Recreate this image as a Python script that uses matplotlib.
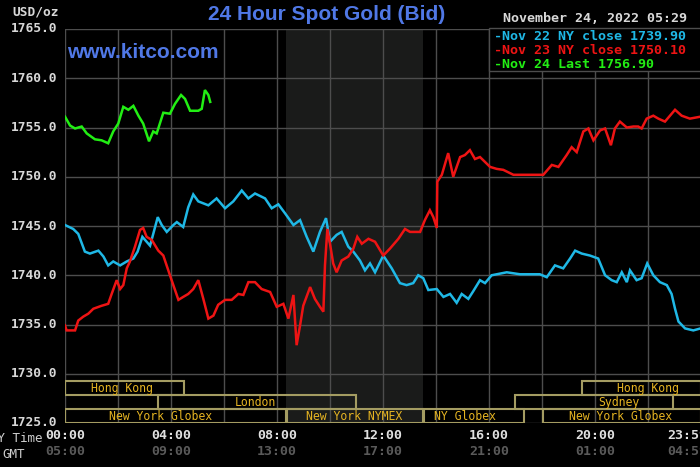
import matplotlib
matplotlib.use("Agg")
import matplotlib.pyplot as plt
from matplotlib.patches import Rectangle

# ---------------- data ----------------
nov22_t = [0.00, 0.31, 0.50, 0.75, 0.94, 1.26, 1.45, 1.63, 1.82, 2.08, 2.33, 2.58, 2.74, 2.92,
           3.21, 3.50, 3.65, 3.84, 4.09, 4.22, 4.46, 4.65, 4.84, 5.03, 5.41, 5.72, 6.04, 6.35,
           6.67, 6.92, 7.17, 7.55, 7.80, 8.05, 8.30, 8.62, 8.87, 9.12, 9.37, 9.62, 9.85, 10.00,
           10.25, 10.44, 10.69, 10.88, 11.13, 11.32, 11.51, 11.70, 12.01, 12.33, 12.64, 12.89,
           13.14, 13.33, 13.52, 13.71, 14.03, 14.28, 14.53, 14.78, 14.97, 15.22, 15.41, 15.66,
           15.85, 16.10, 16.67, 17.17, 17.92, 18.18, 18.49, 18.80, 19.06, 19.25, 19.50, 19.81,
           20.12, 20.38, 20.63, 20.82, 21.01, 21.20, 21.32, 21.57, 21.76, 21.97, 22.20, 22.45,
           22.71, 22.89, 23.02, 23.15, 23.40, 23.71, 23.98]
nov22_v = [1745.1, 1744.7, 1744.2, 1742.4, 1742.2, 1742.5, 1741.9, 1741.0, 1741.4, 1741.0,
           1741.4, 1741.7, 1742.4, 1743.9, 1743.0, 1745.9, 1745.1, 1744.4, 1745.1, 1745.4,
           1744.9, 1746.9, 1748.2, 1747.5, 1747.1, 1747.8, 1746.8, 1747.5, 1748.6, 1747.8,
           1748.3, 1747.8, 1746.8, 1747.2, 1746.3, 1745.1, 1745.6, 1743.9, 1742.4, 1744.4,
           1745.8, 1743.4, 1744.1, 1744.4, 1742.9, 1742.4, 1741.5, 1740.5, 1741.2, 1740.3,
           1742.0, 1740.7, 1739.2, 1739.0, 1739.2, 1740.0, 1739.7, 1738.5, 1738.6, 1737.8,
           1738.1, 1737.2, 1738.1, 1737.6, 1738.4, 1739.5, 1739.2, 1740.0, 1740.3, 1740.1,
           1740.1, 1739.8, 1741.0, 1740.7, 1741.7, 1742.5, 1742.2, 1742.0, 1741.7, 1740.0,
           1739.5, 1739.3, 1740.3, 1739.3, 1740.5, 1739.5, 1739.7, 1741.2, 1740.0, 1739.3,
           1739.0, 1738.1, 1736.6, 1735.3, 1734.6, 1734.4, 1734.6]

nov23_t = [0.00, 0.06, 0.38, 0.50, 0.69, 0.88, 1.07, 1.38, 1.63, 1.76, 1.95, 2.08, 2.20, 2.33,
           2.45, 2.64, 2.83, 2.95, 3.08, 3.27, 3.52, 3.71, 3.96, 4.28, 4.46, 4.65, 4.84, 5.03,
           5.22, 5.41, 5.60, 5.78, 6.04, 6.29, 6.54, 6.73, 6.92, 7.17, 7.42, 7.74, 7.99, 8.24,
           8.43, 8.62, 8.74, 8.87, 8.99, 9.25, 9.43, 9.62, 9.75, 9.81, 9.90, 10.00, 10.12, 10.25,
           10.44, 10.69, 10.88, 11.03, 11.20, 11.45, 11.70, 12.01, 12.26, 12.58, 12.83, 13.02,
           13.40, 13.58, 13.77, 13.90, 14.03, 14.05, 14.22, 14.46, 14.65, 14.91, 15.09, 15.28,
           15.47, 15.66, 16.04, 16.29, 16.54, 16.92, 17.42, 18.05, 18.37, 18.62, 18.93, 19.12,
           19.31, 19.56, 19.75, 19.94, 20.19, 20.38, 20.60, 20.75, 20.94, 21.20, 21.45, 21.63,
           21.76, 21.95, 22.20, 22.39, 22.64, 23.02, 23.27, 23.58, 23.98]
nov23_v = [1734.9, 1734.4, 1734.4, 1735.4, 1735.8, 1736.1, 1736.6, 1736.9, 1737.1, 1738.1,
           1739.5, 1738.6, 1739.0, 1740.7, 1741.4, 1742.9, 1744.6, 1744.8, 1743.9, 1743.6,
           1742.5, 1742.0, 1740.0, 1737.5, 1737.8, 1738.1, 1738.6, 1739.5, 1737.6, 1735.6,
           1735.9, 1737.0, 1737.5, 1737.5, 1738.1, 1738.0, 1739.3, 1739.3, 1738.6, 1738.3,
           1736.8, 1737.1, 1735.6, 1738.0, 1732.9, 1734.9, 1736.9, 1738.8, 1737.6, 1736.8,
           1736.3, 1741.0, 1744.7, 1743.2, 1741.2, 1740.3, 1741.5, 1741.9, 1742.7, 1743.9,
           1743.2, 1743.7, 1743.4, 1742.0, 1742.7, 1743.7, 1744.7, 1744.4, 1744.4, 1745.6,
           1746.6, 1745.9, 1744.8, 1749.5, 1750.2, 1752.4, 1750.0, 1752.0, 1752.2, 1752.7,
           1751.8, 1752.0, 1751.0, 1750.8, 1750.7, 1750.2, 1750.2, 1750.2, 1751.2, 1751.0,
           1752.2, 1753.0, 1752.5, 1754.6, 1754.9, 1753.7, 1754.7, 1754.9, 1753.2, 1754.9,
           1755.6, 1755.0, 1755.1, 1755.1, 1754.9, 1755.9, 1756.2, 1755.9, 1755.6, 1756.8,
           1756.2, 1755.9, 1756.1]

nov24_t = [0.00, 0.19, 0.38, 0.63, 0.82, 1.13, 1.38, 1.63, 1.82, 2.01, 2.20, 2.39, 2.58, 2.77,
           2.95, 3.17, 3.33, 3.46, 3.71, 3.96, 4.15, 4.38, 4.53, 4.72, 5.03, 5.16, 5.28, 5.41,
           5.48]
nov24_v = [1756.1, 1755.2, 1754.9, 1755.1, 1754.4, 1753.8, 1753.7, 1753.4, 1754.6, 1755.4,
           1757.1, 1756.8, 1757.2, 1756.2, 1755.4, 1753.6, 1754.6, 1754.4, 1756.5, 1756.4,
           1757.4, 1758.3, 1757.9, 1756.7, 1756.7, 1756.9, 1758.8, 1758.3, 1757.6]

legend_labels = ["Nov 22 NY close 1739.90", "Nov 23 NY close 1750.10", "Nov 24 Last 1756.90"]
series_colors = ["#1fb8e6", "#ee1414", "#22ee14"]

y_ticks = [1725, 1730, 1735, 1740, 1745, 1750, 1755, 1760, 1765]
ny_time_labels = ["00:00", "04:00", "08:00", "12:00", "16:00", "20:00", "23:59"]
gmt_labels = ["05:00", "09:00", "13:00", "17:00", "21:00", "01:00", "04:59"]
label_hours = [0, 4, 8, 12, 16, 20, 23.5]

# sessions: (name, start hour, end hour, row)  row 0 = bottom
sessions = [
    ("Hong Kong", 0.0, 4.5, 2),
    ("London", 3.5, 11.0, 1),
    ("New York Globex", 0.0, 8.33, 0),
    ("New York NYMEX", 8.37, 13.5, 0),
    ("NY Globex", 13.55, 17.33, 0),
    ("New York Globex", 18.03, 24.0, 0),
    ("Sydney", 17.0, 22.95, 1),
    ("Hong Kong", 19.5, 24.0, 2),
]
session_label_hours = [2.15, 7.2, 3.6, 10.9, 15.1, 20.95, 20.9, 22.0]
nymex_shade = (8.33, 13.5)

# ---------------- drawing ----------------
W, H = 700, 467
fig = plt.figure(figsize=(7.0, 4.67), dpi=100, facecolor="black")
ax = fig.add_axes([65 / W, 1 - 423 / H, 636 / W, 394 / H])
ax.set_facecolor("black")
ax.set_xlim(0, 24)
ax.set_ylim(1725, 1765)

mono = "DejaVu Sans Mono"
grid_c = "#4d4d4d"
blue_txt = "#5078e6"

ax.axvspan(nymex_shade[0], nymex_shade[1], color="#1a1b1a", zorder=0, lw=0)
for h in range(0, 25, 2):
    ax.axvline(h, color=grid_c, lw=1.0, zorder=1)
for y in y_ticks:
    ax.axhline(y, color=grid_c, lw=1.0, zorder=1)

for t, v, c in [(nov22_t, nov22_v, series_colors[0]),
                (nov23_t, nov23_v, series_colors[1]),
                (nov24_t, nov24_v, series_colors[2])]:
    ax.plot(t, v, color=c, lw=1.8, zorder=3, solid_joinstyle="miter")

# sessions
row_h = 1.42
box_c = "#a49c62"
txt_c = "#e6b422"
for (name, s, e, row), lx in zip(sessions, session_label_hours):
    y0 = 1725.0 + row * row_h
    ax.add_patch(Rectangle((s, y0), e - s, row_h, fill=False, ec=box_c, lw=1.5, zorder=4,
                           clip_on=True))
    ax.text(lx, y0 + row_h / 2, name, color=txt_c, fontsize=8.3, family=mono,
            ha="center", va="center", zorder=5)

for sp in ax.spines.values():
    sp.set_visible(False)
ax.set_xticks([])
ax.set_yticks([])

# y labels
for y in y_ticks:
    ax.text(-0.3, y, f"{y:.1f}", color="#d8d8d8", fontsize=9.3, family=mono,
            fontweight="bold", ha="right", va="center", transform=ax.transData, clip_on=False)
fig.text(12 / W, 1 - 12 / H, "USD/oz", color="#d8d8d8", fontsize=9.3, family=mono,
         fontweight="bold", ha="left", va="center")

# x labels
for h, l1, l2 in zip(label_hours, ny_time_labels, gmt_labels):
    ax.text(h, 1723.7, l1, color="#e0e0e0", fontsize=9.5, family=mono, fontweight="bold",
            ha="center", va="center", clip_on=False)
    ax.text(h, 1722.1, l2, color="#5a5a5a", fontsize=9.5, family=mono, fontweight="bold",
            ha="center", va="center", clip_on=False)
fig.text(42 / W, 1 - 438 / H, "NY Time", color="#d0d0d0", fontsize=9.0, family=mono,
         ha="right", va="center")
fig.text(2 / W, 1 - 454 / H, "GMT", color="#d0d0d0", fontsize=9.0, family=mono,
         ha="left", va="center")

# titles
fig.text(327 / W, 1 - 15 / H, "24 Hour Spot Gold (Bid)", color=blue_txt, fontsize=15,
         fontweight="bold", family="Liberation Sans", ha="center", va="center")
fig.text(67 / W, 1 - 52 / H, "www.kitco.com", color=blue_txt, fontsize=15,
         fontweight="bold", family="Liberation Sans", ha="left", va="center")
fig.text(503 / W, 1 - 18 / H, "November 24, 2022 05:29", color="#d8d8d8", fontsize=9.6,
         family=mono, fontweight="bold", ha="left", va="center")

# legend box
fig.add_artist(Rectangle((489 / W, 1 - 71 / H), 220 / W, 43 / H, transform=fig.transFigure,
                         facecolor="black", edgecolor=grid_c, lw=1.0, zorder=5))
for i, (lab, c) in enumerate(zip(legend_labels, series_colors)):
    fig.text(494 / W, 1 - (36 + 14 * i) / H, "-" + lab, color=c, fontsize=9.6, family=mono,
             fontweight="bold", ha="left", va="center", zorder=6)

fig.savefig("out.png", dpi=100, facecolor="black")
